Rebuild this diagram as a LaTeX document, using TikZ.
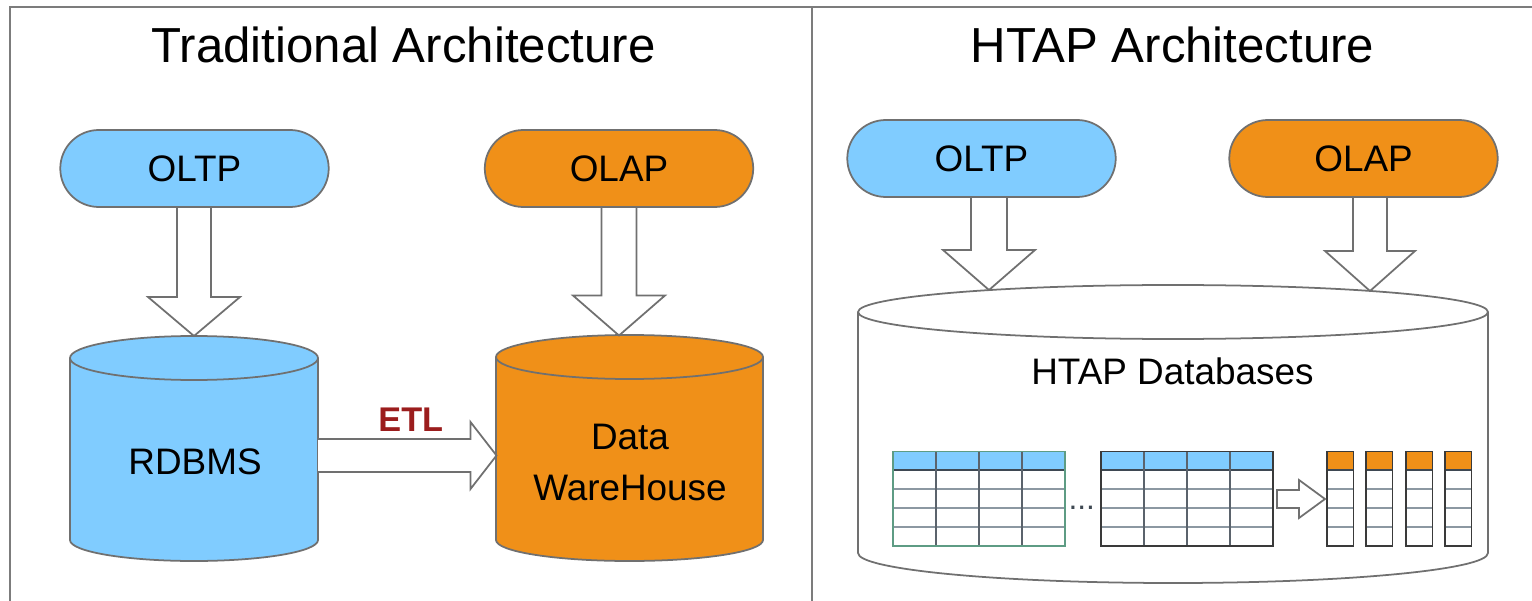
\documentclass[tikz,border=0pt]{standalone}
\usepackage{fontspec}
\setmainfont{Liberation Sans}
\usetikzlibrary{calc,shapes.misc}

\definecolor{oltpblue}{HTML}{80CCFF}
\definecolor{olaporange}{HTML}{F09018}
\definecolor{edgegray}{HTML}{707070}
\definecolor{framegray}{HTML}{7C7C7C}
\definecolor{etlred}{HTML}{9B1D1D}
\definecolor{gridgray}{HTML}{8C98A2}
\definecolor{griddark}{HTML}{3E4852}
\definecolor{tealedge}{HTML}{5E9C84}
\definecolor{celledge}{HTML}{3A3A3A}

\pgfdeclarelayer{back}
\pgfsetlayers{back,main}

\tikzset{
  pill/.style={rounded rectangle, draw=edgegray, line width=1pt,
    minimum width=5.37cm, minimum height=1.54cm, inner sep=0pt,
    font=\fontsize{21}{25}\selectfont},
  blockarrow/.style={draw=edgegray, fill=white, line width=1pt, line join=miter},
  dbtext/.style={anchor=base, inner sep=0pt, font=\fontsize{21}{25}\selectfont},
  paneltitle/.style={anchor=base, inner sep=0pt, font=\fontsize{28}{32}\selectfont},
  framerule/.style={draw=framegray, line width=1.1pt},
  cylline/.style={draw=edgegray, line width=1pt},
}

% cylinder: centre x, x radius, top y, bottom y, top y radius, bottom y radius, fill
\newcommand\cylinder[7]{%
  \filldraw[cylline, fill=#7] (#1-#2,#3) -- (#1-#2,#4)
    arc[start angle=180, end angle=0, x radius=#2, y radius=#6]
    -- (#1+#2,#3)
    arc[start angle=0, end angle=-180, x radius=#2, y radius=#5] -- cycle;
  \draw[cylline] (#1-#2,#3) arc[start angle=180, end angle=0, x radius=#2, y radius=#5];
}

% downward block arrow: from, to, shaft half width, head half width, head length
\newcommand\vblockarrow[5]{%
  \draw[blockarrow] ($(#2|-#1)+(-#3,0)$) -- ($(#2)+(-#3,-#5)$) -- ($(#2)+(-#4,-#5)$)
    -- (#2) -- ($(#2)+(#4,-#5)$) -- ($(#2)+(#3,-#5)$) -- ($(#2|-#1)+(#3,0)$);
}

% rightward block arrow: from, to, shaft half height, head half height, head length
\newcommand\hblockarrow[5]{%
  \draw[blockarrow] ($(#1|-#2)+(0,-#3)$) -- ($(#2)+(-#5,-#3)$) -- ($(#2)+(-#5,-#4)$)
    -- (#2) -- ($(#2)+(-#5,#4)$) -- ($(#2)+(-#5,#3)$) -- ($(#1|-#2)+(0,#3)$);
}

% closed rightward block arrow (free-standing outline)
\newcommand\hblockarrowclosed[5]{%
  \draw[blockarrow] ($(#1|-#2)+(0,-#3)$) -- ($(#2)+(-#5,-#3)$) -- ($(#2)+(-#5,-#4)$)
    -- (#2) -- ($(#2)+(-#5,#4)$) -- ($(#2)+(-#5,#3)$) -- ($(#1|-#2)+(0,#3)$) -- cycle;
}

% row-oriented table: left x, border colour
\newcommand\rowtable[2]{%
  \fill[oltpblue] (#1,451.5) rectangle (#1+172,470);
  \foreach \yy in {489,508,527}
    \draw[gridgray, line width=0.7pt] (#1,\yy) -- (#1+172,\yy);
  \draw[griddark, line width=0.7pt] (#1,470) -- (#1+172,470);
  \foreach \ii in {1,2,3}
    \draw[griddark!85, line width=0.7pt] (#1+43*\ii,451.5) -- (#1+43*\ii,546);
  \draw[#2, line width=0.8pt] (#1,451.5) rectangle (#1+172,546);
}

% column-oriented store: left x
\newcommand\colstore[1]{%
  \fill[olaporange] (#1,451.5) rectangle (#1+26.5,470);
  \foreach \yy in {489,508,527}
    \draw[gridgray, line width=0.7pt] (#1,\yy) -- (#1+26.5,\yy);
  \draw[griddark, line width=0.7pt] (#1,470) -- (#1+26.5,470);
  \draw[celledge, line width=0.8pt] (#1,451.5) rectangle (#1+26.5,546);
}

\begin{document}
\begin{tikzpicture}[x=0.02cm, y=-0.02cm]
\useasboundingbox (0,0) rectangle (1532,601);

% panel frame
\draw[framerule] (10,601) -- (10,7) -- (1532,7);
\draw[framerule] (812,7) -- (812,601);

% titles
\node[paneltitle] (titleA) at (403.5,63) {Traditional Architecture};
\node[paneltitle] (titleB) at (1172.5,63) {HTAP Architecture};

% workload pills
\node[pill, fill=oltpblue] (oltpA) at (194.5,168.5) {OLTP};
\node[pill, fill=olaporange] (olapA) at (619,168.5) {OLAP};
\node[pill, fill=oltpblue] (oltpB) at (981.5,158.5) {OLTP};
\node[pill, fill=olaporange] (olapB) at (1363.5,158.5) {OLAP};

% connection points
\coordinate (rdbmsTop) at (194,336);
\coordinate (dwTop) at (619,335.5);
\coordinate (htapTopL) at (989,290);
\coordinate (htapTopR) at (1370,291);
\coordinate (rdbmsE) at (318,455.5);
\coordinate (dwW) at (496.5,455.5);
\coordinate (rowsE) at (1277,499);
\coordinate (colsW) at (1325,499);

\begin{pgfonlayer}{back}
% databases
\cylinder{194}{124}{358}{540}{22}{21}{oltpblue}
\cylinder{629.5}{133.5}{357}{540}{22}{21}{olaporange}
\cylinder{1173}{315}{312}{553}{27}{30}{white}

% block arrows
\vblockarrow{oltpA.south}{rdbmsTop}{17}{46}{39}
\vblockarrow{olapA.south}{dwTop}{17.5}{46}{40}
\vblockarrow{oltpB.south}{htapTopL}{18}{46}{40}
\vblockarrow{olapB.south}{htapTopR}{17}{45}{40}
\hblockarrow{rdbmsE}{dwW}{16.5}{33.5}{26}
\end{pgfonlayer}

\node[dbtext] (rdbms) at (195,474) {RDBMS};
\node[dbtext] (dwA) at (630,449) {Data};
\node[dbtext] (dwB) at (630,500) {WareHouse};
\node[dbtext] (htapdb) at (1172.5,384) {HTAP Databases};
\node[anchor=base, inner sep=0pt, text=etlred, font=\bfseries\fontsize{19.5}{22}\selectfont] (etl) at (410.8,431) {ETL};

% tables inside the HTAP database
\rowtable{893}{tealedge}
\rowtable{1101}{celledge}
\node[anchor=base, inner sep=0pt, text=griddark, font=\fontsize{18}{20}\selectfont] (dots) at (1081.7,509) {...};
\foreach \cx in {1327,1366,1406,1445} {\colstore{\cx}}
\hblockarrowclosed{rowsE}{colsW}{9}{19}{26}
\end{tikzpicture}
\end{document}
